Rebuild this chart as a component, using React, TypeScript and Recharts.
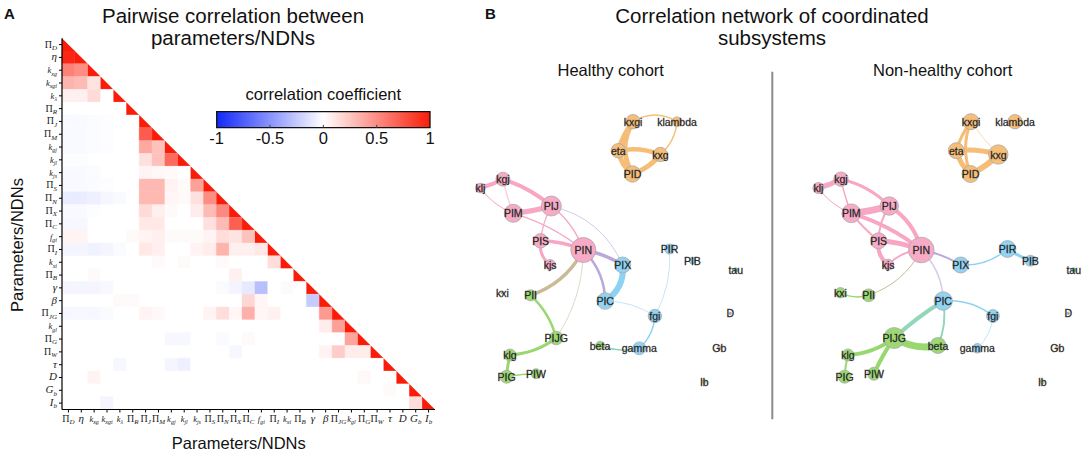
import React from 'react';
import { ScatterChart, Scatter, XAxis, YAxis, ReferenceArea, ReferenceLine } from 'recharts';

// ---------- Panel A data ----------
const labelBase = ['Π','η','k','k','k','Π','Π','Π','k','k','k','Π','Π','Π','Π','f','Π','k','Π','γ','β','Π','k','Π','Π','τ','D','G','I'];
const labelSub = ['D','','xg','xgi','λ','R','J','M','gj','jl','js','S','N','X','C','gi','I','xi','B','','','JG','gl','G','W','','','b','b'];

const corrRows: number[][] = [
  [1],
  [0.95, 1],
  [0.55, 0.5, 1],
  [0.33, 0.3, 0.12, 1],
  [0.07, 0.07, 0.16, 0, 1],
  [0, 0, 0, 0, 0, 1],
  [-0.025, -0.025, -0.015, -0.01, 0, 0, 1],
  [-0.025, -0.025, -0.015, -0.01, 0, 0, 0.72, 1],
  [-0.025, -0.025, -0.015, -0.01, 0, 0, 0.38, 0.27, 1],
  [-0.01, -0.01, 0, 0, 0, 0, 0.13, 0.27, 0.65, 1],
  [-0.025, -0.025, -0.015, 0, 0, 0, 0.05, 0.03, 0.02, 0, 1],
  [-0.025, -0.025, -0.015, -0.01, 0, 0, 0.31, 0.31, 0.05, 0.02, 0.42, 1],
  [-0.09, -0.09, -0.07, -0.04, -0.025, 0, 0.31, 0.31, 0.04, 0.02, 0.13, 0.5, 1],
  [-0.025, -0.025, -0.01, 0, 0, 0, 0.16, 0.07, 0.02, 0, 0.08, 0.3, 0.52, 1],
  [-0.035, -0.035, 0, 0, 0, 0, 0.1, 0.1, 0, 0, 0, 0.13, 0.3, 0.7, 1],
  [0.05, 0.05, 0, 0, 0, 0.02, 0.05, 0.07, 0.02, 0.02, 0.02, 0.05, 0.15, 0.12, 0.27, 1],
  [-0.045, -0.045, -0.06, -0.045, -0.02, 0, 0.1, 0.07, 0, 0, 0.05, 0.08, 0.33, 0.07, 0.07, 0.1, 1],
  [0, 0, 0, 0, 0, 0, 0, 0.02, 0, 0.02, 0, 0, 0.02, 0, 0, 0, 0.15, 1],
  [0, 0, 0.02, 0, 0, 0, 0, 0, 0, 0, 0, 0, 0, 0.06, 0, 0, 0, 0, 1],
  [-0.045, -0.045, -0.045, -0.03, 0, 0, 0, 0, 0, 0, 0, 0, -0.02, -0.05, -0.1, -0.3, 0, 0.02, 0, 1],
  [0, 0, 0, 0, 0.02, 0.02, 0, 0, 0, 0, 0, 0, 0, 0, 0.18, 0.04, 0, 0, 0, -0.24, 1],
  [-0.035, -0.035, -0.035, -0.02, 0, 0, 0.05, 0.03, 0, 0, 0, 0.05, 0.15, 0.04, 0.35, 0.04, 0.06, 0, 0, 0, 0.45, 1],
  [0, 0, 0, 0, 0, 0, 0, 0, 0, 0, 0, 0, 0, 0, 0, 0, 0, 0, 0, 0, 0.08, 0.42, 1],
  [0, 0, 0, 0, 0, 0, 0, 0, -0.035, -0.035, 0, 0, -0.02, 0, 0.02, 0, 0, 0, 0, 0, 0, 0, 0.4, 1],
  [0, 0, 0, 0, 0, 0, 0, 0, 0, 0, 0, 0, 0, -0.035, 0, 0, 0, 0, 0, 0, 0.05, 0.22, 0.08, 0.08, 1],
  [0, 0, 0, 0, -0.035, 0, 0, 0, -0.045, -0.07, 0, 0, 0, 0, 0, 0, 0, 0, 0, 0, 0, 0, 0, 0, 0, 1],
  [0, 0, 0.05, 0, 0, 0, 0, 0, 0, 0, 0, 0, 0, 0, 0, 0, 0, 0, 0, 0, 0, 0, 0, 0.03, 0, 0, 1],
  [0, 0, 0, 0, 0, 0, 0, 0, 0, 0, 0, 0, 0, 0, 0, 0, 0, 0, 0, 0, 0, 0, 0, 0, 0, 0.02, 0, 1],
  [0, 0, 0, -0.045, 0, 0, 0, 0, 0, 0, 0, 0, 0, 0, 0, 0, 0, 0, 0, 0, 0, 0, 0, 0, 0, 0, 0, 0.15, 1],
];

const colorbarTicks = [-1, -0.5, 0, 0.5, 1];

// ---------- Panel B data ----------
const nodeNames = ['kxgi','klambda','eta','kxg','PID','kgj','klj','PIJ','PIM','PIS','PIN','kjs','PIX','PIR','PIB','tau','kxi','PII','PIC','fgi','D','PIJG','beta','gamma','Gb','klg','PIG','PIW','Ib'];
const nodeX = [163, 207, 148.3, 190.3, 162.5, 33, 10.4, 81.3, 43.3, 70.6, 113.3, 80.2, 152.7, 199.5, 222.4, 265.7, 32.4, 60.6, 135.2, 184.9, 260.2, 86.2, 130, 169.3, 249.3, 40, 36.6, 66, 234.3];
const nodeY = [11.7, 11.7, 40.7, 44.5, 64, 69.2, 78, 96, 103.3, 130.8, 140, 154.7, 155, 139, 150.7, 160, 182.7, 185.3, 191, 206, 203.3, 228, 235.5, 238.3, 237.7, 245, 266.7, 263.7, 271.7];
const nodeGroup = ['orange','orange','orange','orange','orange','pink','pink','pink','pink','pink','pink','pink','blue','blue','blue','teal','green','green','blue','blue','purple','green','green','blue','salmon','green','green','green','yellow'];
const healthySize = [7.2, 4.8, 7.2, 7.2, 8.2, 7, 4.8, 10, 9, 7.2, 12.5, 5.2, 8, 5, 3.2, 2.2, 1.5, 5.6, 8.3, 6.7, 1.2, 6.8, 4.3, 6.4, 2, 6, 6.5, 5, 2];
const nonHealthySize = [8, 7.2, 8, 9.7, 8.5, 7.2, 5.5, 9.2, 9.4, 8, 12.8, 5.5, 8, 8.4, 5.5, 2.2, 5.2, 6.4, 9.2, 6.4, 1.2, 10.5, 8, 4.8, 2, 6, 6.5, 6.5, 2];

// [source, target, weight(width), bend, colour key]
const healthyEdges: [string, string, number, number, string][] = [
  ['kxgi','klambda',1.5,-0.3,'orange'],
  ['klambda','kxg',1.5,-0.2,'orange'],
  ['kxgi','eta',5,0.1,'orange'],
  ['kxgi','PID',5,0.3,'orange'],
  ['eta','kxg',4.5,-0.15,'orange'],
  ['eta','PID',5,0.2,'orange'],
  ['kxg','PID',5,-0.15,'orange'],
  ['klj','kgj',4,0.05,'pink'],
  ['kgj','PIJ',4,-0.1,'pink'],
  ['kgj','PIM',1.5,0.05,'lightpink'],
  ['klj','PIM',1,0.15,'pink'],
  ['PIM','PIJ',5,0.05,'pink'],
  ['PIM','PIN',1.2,-0.1,'pink'],
  ['PIJ','PIS',1.2,0.1,'pink'],
  ['PIJ','PIN',1.5,-0.15,'pink'],
  ['PIS','PIN',3.5,-0.1,'pink'],
  ['PIS','kjs',3,0.3,'pink'],
  ['PIJ','PIX',1,-0.25,'lavender'],
  ['PIN','PIX',3.5,-0.1,'purple'],
  ['PIN','PIC',2.5,-0.2,'purple'],
  ['PIN','PII',3.5,-0.2,'tan'],
  ['PIN','PIJG',1,-0.15,'beige'],
  ['PIX','PIC',6,-0.3,'blue'],
  ['PIC','fgi',1,-0.15,'lightblue'],
  ['PIR','fgi',1,-0.15,'lightblue'],
  ['fgi','gamma',1.5,-0.2,'blue'],
  ['beta','gamma',1.5,0.15,'teal'],
  ['PII','PIJG',2.5,-0.15,'green'],
  ['PIJG','klg',3,-0.15,'green'],
  ['klg','PIG',3,0.05,'green'],
  ['PIG','PIW',1.5,-0.05,'green'],
];

const nonHealthyEdges: [string, string, number, number, string][] = [
  ['kxgi','eta',3,0.1,'orange'],
  ['kxgi','PID',3,0.2,'orange'],
  ['kxgi','kxg',1,0.05,'lightorange'],
  ['eta','kxg',5,-0.1,'orange'],
  ['eta','PID',5,0.15,'orange'],
  ['kxg','PID',6,-0.1,'orange'],
  ['klj','kgj',5,0.05,'pink'],
  ['klj','PIM',1,0.15,'pink'],
  ['kgj','PIM',1.5,0.05,'pink'],
  ['kgj','PIJ',3,-0.15,'pink'],
  ['PIM','PIJ',7,0.05,'pink'],
  ['PIM','PIN',4,-0.1,'pink'],
  ['PIM','PIS',2,0.05,'pink'],
  ['PIJ','PIS',2,0.15,'pink'],
  ['PIJ','PIN',4,-0.2,'pink'],
  ['PIS','PIN',5,-0.08,'pink'],
  ['PIS','kjs',4,0.3,'pink'],
  ['kjs','PIN',2,-0.2,'pink'],
  ['PIN','PIX',2,-0.1,'purple'],
  ['PIN','PIC',1.5,-0.2,'lavender'],
  ['PIN','PII',1,-0.2,'tan'],
  ['PIX','PIR',1.5,0.2,'blue'],
  ['PIR','PIB',3,0.05,'blue'],
  ['PIC','fgi',1.5,-0.2,'blue'],
  ['fgi','gamma',1,-0.2,'lightblue'],
  ['PIC','PIJG',4,0.05,'teal'],
  ['PIC','beta',2,-0.15,'teal'],
  ['PIJG','beta',7,0.2,'green'],
  ['PIJG','klg',4,-0.15,'green'],
  ['PIJG','PIW',4,0.05,'green'],
  ['klg','PIG',2,0.05,'green'],
  ['kxi','PII',1.5,0.2,'green'],
];

// ---------- styles ----------
const SANS = "'Liberation Sans', Arial, Helvetica, sans-serif";
const SERIF = "'Liberation Serif', 'DejaVu Serif', 'Times New Roman', serif";

const nodeColors: Record<string, string> = {
  orange: '#f7be78', pink: '#f8aac6', blue: '#90d3f3', green: '#9cd973',
  teal: '#38c79b', purple: '#b690d8', salmon: '#f2a27c', yellow: '#efe36a',
};
const edgeColors: Record<string, string> = {
  orange: '#f6bd76', lightorange: '#f9dcb6', pink: '#f8a6c4', lightpink: '#fbcfe0',
  blue: '#8ed2f3', lightblue: '#c2e8f9', green: '#98d86f', purple: '#b9a9da',
  lavender: '#d3cbe8', tan: '#c9bb95', beige: '#e0d9c6', teal: '#93d7b9',
};

const RED = [250, 28, 8];
const BLUE = [18, 40, 250];
function corrColor(v: number) {
  const t = Math.min(1, Math.abs(v));
  const end = v >= 0 ? RED : BLUE;
  const ch = end.map((e) => Math.round(255 + (e - 255) * t));
  return `rgb(${ch[0]},${ch[1]},${ch[2]})`;
}

const N = labelBase.length;
const tickPositions = labelBase.map((_, i) => i + 0.5);
const cellCenters = corrRows.flatMap((row, r) => row.map((_, c) => ({ x: c + 0.5, y: r + 0.5 })));

function MathLabel({ x, y, idx, anchor }: { x: number; y: number; idx: number; anchor: string }) {
  const base = labelBase[idx];
  const sub = labelSub[idx];
  const isPi = base === 'Π';
  const isSmall = base === 'k' || base === 'f';
  const fs = isPi ? 10 : isSmall ? 8.5 : 11;
  const subFs = isSmall ? 6 : 7;
  return (
    <text x={x} y={y} textAnchor={anchor as any} fontFamily={SERIF} fill="#222">
      <tspan fontSize={fs} fontStyle={isPi ? 'normal' : 'italic'}>{base}</tspan>
      {sub ? <tspan fontSize={subFs} fontStyle="italic" dy={2.3}>{sub}</tspan> : null}
    </text>
  );
}

const XTick = (p: any) => <MathLabel x={p.x} y={p.y + 7} idx={Math.floor(p.payload.value)} anchor="middle" />;
const YTick = (p: any) => <MathLabel x={p.x} y={p.y + 3} idx={Math.floor(p.payload.value)} anchor="end" />;
const emptyShape = () => <g />;

function Heatmap() {
  return (
    <ScatterChart width={450} height={454} margin={{ top: 38.2, right: 15, bottom: 24.5, left: 22 }}>
      <XAxis type="number" dataKey="x" domain={[0, N]} allowDataOverflow ticks={tickPositions} interval={0}
        tick={XTick} tickSize={3} height={20} axisLine={{ stroke: '#000', strokeWidth: 1.2 }} tickLine={{ stroke: '#000' }} />
      <YAxis type="number" dataKey="y" domain={[0, N]} allowDataOverflow reversed ticks={tickPositions} interval={0}
        tick={YTick} tickSize={3} width={40} axisLine={{ stroke: '#000', strokeWidth: 1.2 }} tickLine={{ stroke: '#000' }} />
      {corrRows.flatMap((row, r) =>
        row.map((v, c) => {
          const fill = corrColor(v);
          if (c === r) {
            return (
              <ReferenceArea key={`d${r}`} x1={c} x2={c + 1} y1={r} y2={r + 1} ifOverflow="visible"
                shape={(p: any) => (
                  <path d={`M${p.x},${p.y} L${p.x},${p.y + p.height} L${p.x + p.width},${p.y + p.height} Z`} fill={fill} />
                )} />
            );
          }
          return (
            <ReferenceArea key={`c${r}-${c}`} x1={c} x2={c + 1} y1={r} y2={r + 1} ifOverflow="visible"
              fill={fill} fillOpacity={1} stroke={fill} strokeWidth={0.4} />
          );
        })
      )}
      <Scatter data={cellCenters} shape={emptyShape} isAnimationActive={false} />
    </ScatterChart>
  );
}

const CbTick = (p: any) => (
  <text x={p.x} y={p.y + 12} textAnchor="middle" fontFamily={SANS} fontSize={16.5} fill="#111">{p.payload.value}</text>
);

function Colorbar() {
  return (
    <ScatterChart width={254} height={60} margin={{ top: 16.7, right: 20, bottom: 0, left: 20.7 }}>
      <defs>
        <linearGradient id="cbgrad" x1="0" y1="0" x2="1" y2="0">
          <stop offset="0%" stopColor={corrColor(-1)} />
          <stop offset="50%" stopColor="#ffffff" />
          <stop offset="100%" stopColor={corrColor(1)} />
        </linearGradient>
      </defs>
      <XAxis type="number" dataKey="x" domain={[-1, 1]} allowDataOverflow ticks={colorbarTicks} interval={0}
        tick={CbTick} tickSize={2} tickLine={false} axisLine={false} height={27.3} />
      <YAxis type="number" dataKey="y" domain={[0, 1]} allowDataOverflow hide width={0} />
      <ReferenceArea x1={-1} x2={1} y1={0} y2={1} fill="url(#cbgrad)" fillOpacity={1} stroke="#111" strokeWidth={1.3} ifOverflow="visible" />
      {colorbarTicks.slice(1, -1).map((t) => (
        <ReferenceLine key={t} segment={[{ x: t, y: 0 }, { x: t, y: 0.18 }]} stroke="#444" strokeWidth={1} ifOverflow="visible" />
      ))}
      <Scatter data={[{ x: -1, y: 0 }, { x: 1, y: 1 }]} shape={emptyShape} isAnimationActive={false} />
    </ScatterChart>
  );
}

function curvePath(pts: { x: number; y: number }[], bend: number) {
  const a = pts[0];
  const b = pts[1];
  const dx = b.x - a.x;
  const dy = b.y - a.y;
  const mx = (a.x + b.x) / 2 - dy * bend;
  const my = (a.y + b.y) / 2 + dx * bend;
  return `M${a.x},${a.y} Q${mx},${my} ${b.x},${b.y}`;
}

function Network({ sizes, edges }: { sizes: number[]; edges: [string, string, number, number, string][] }) {
  const nodes = nodeNames.map((name, i) => ({ name, x: nodeX[i], y: nodeY[i], r: sizes[i], group: nodeGroup[i] }));
  const NodeShape = (p: any) => (
    <circle cx={p.cx} cy={p.cy} r={p.payload.r} fill={nodeColors[p.payload.group]} stroke="#a9a9a9" strokeWidth={0.8} />
  );
  const LabelShape = (p: any) => (
    <text x={p.cx} y={p.cy} textAnchor="middle" dominantBaseline="central" fontFamily={SANS} fontSize={10.5}
      fill="#000" stroke="#555" strokeWidth={0.3}>
      {p.payload.name}
    </text>
  );
  return (
    <ScatterChart width={300} height={310} margin={{ top: 15, right: 0, bottom: 15, left: 20 }}>
      <XAxis type="number" dataKey="x" domain={[0, 280]} allowDataOverflow hide height={0} />
      <YAxis type="number" dataKey="y" domain={[0, 280]} allowDataOverflow reversed hide width={0} />
      {edges.map((e, i) => {
        const a = nodeNames.indexOf(e[0]);
        const b = nodeNames.indexOf(e[1]);
        const pts = [{ x: nodeX[a], y: nodeY[a] }, { x: nodeX[b], y: nodeY[b] }];
        return (
          <Scatter key={`e${i}`} data={pts} isAnimationActive={false} shape={emptyShape}
            line={(lp: any) => (
              <path d={curvePath(lp.points, e[3])} fill="none" stroke={edgeColors[e[4]]} strokeWidth={e[2]} strokeLinecap="round" />
            )} />
        );
      })}
      <Scatter data={nodes} shape={NodeShape} isAnimationActive={false} />
      <Scatter data={nodes} shape={LabelShape} isAnimationActive={false} />
    </ScatterChart>
  );
}

export default function App() {
  return (
    <div style={{ position: 'absolute', left: 0, top: 0, width: 1084, height: 454, overflow: 'hidden', background: '#fff' }}>
      <div style={{ position: 'absolute', left: 0, top: 0 }}><Heatmap /></div>
      <div style={{ position: 'absolute', left: 196, top: 95 }}><Colorbar /></div>
      <div style={{ position: 'absolute', left: 450, top: 95 }}><Network sizes={healthySize} edges={healthyEdges} /></div>
      <div style={{ position: 'absolute', left: 787.5, top: 95 }}><Network sizes={nonHealthySize} edges={nonHealthyEdges} /></div>
      <svg width={1084} height={454} style={{ position: 'absolute', left: 0, top: 0, pointerEvents: 'none' }}>
        <g fontFamily={SANS} fill="#111">
          <text x={4} y={19.3} fontSize={15} fontWeight="bold">A</text>
          <text x={233} y={22.7} fontSize={20.5} textAnchor="middle">Pairwise correlation between</text>
          <text x={233} y={44.5} fontSize={20.5} textAnchor="middle">parameters/NDNs</text>
          <text x={323.3} y={100} fontSize={16.5} textAnchor="middle">correlation coefficient</text>
          <text x={238.8} y={448.5} fontSize={16.5} textAnchor="middle">Parameters/NDNs</text>
          <text transform="translate(22.5,245) rotate(-90)" fontSize={16.5} textAnchor="middle">Parameters/NDNs</text>
          <text x={485} y={19.3} fontSize={15} fontWeight="bold">B</text>
          <text x={772} y={22.7} fontSize={20.5} textAnchor="middle">Correlation network of coordinated</text>
          <text x={772} y={44.5} fontSize={20.5} textAnchor="middle">subsystems</text>
          <text x={610.7} y={76} fontSize={16.5} textAnchor="middle">Healthy cohort</text>
          <text x={942.7} y={76} fontSize={16.5} textAnchor="middle">Non-healthy cohort</text>
        </g>
        <line x1={772.3} y1={71.7} x2={772.3} y2={419.3} stroke="#8c8c8c" strokeWidth={2} />
      </svg>
    </div>
  );
}
